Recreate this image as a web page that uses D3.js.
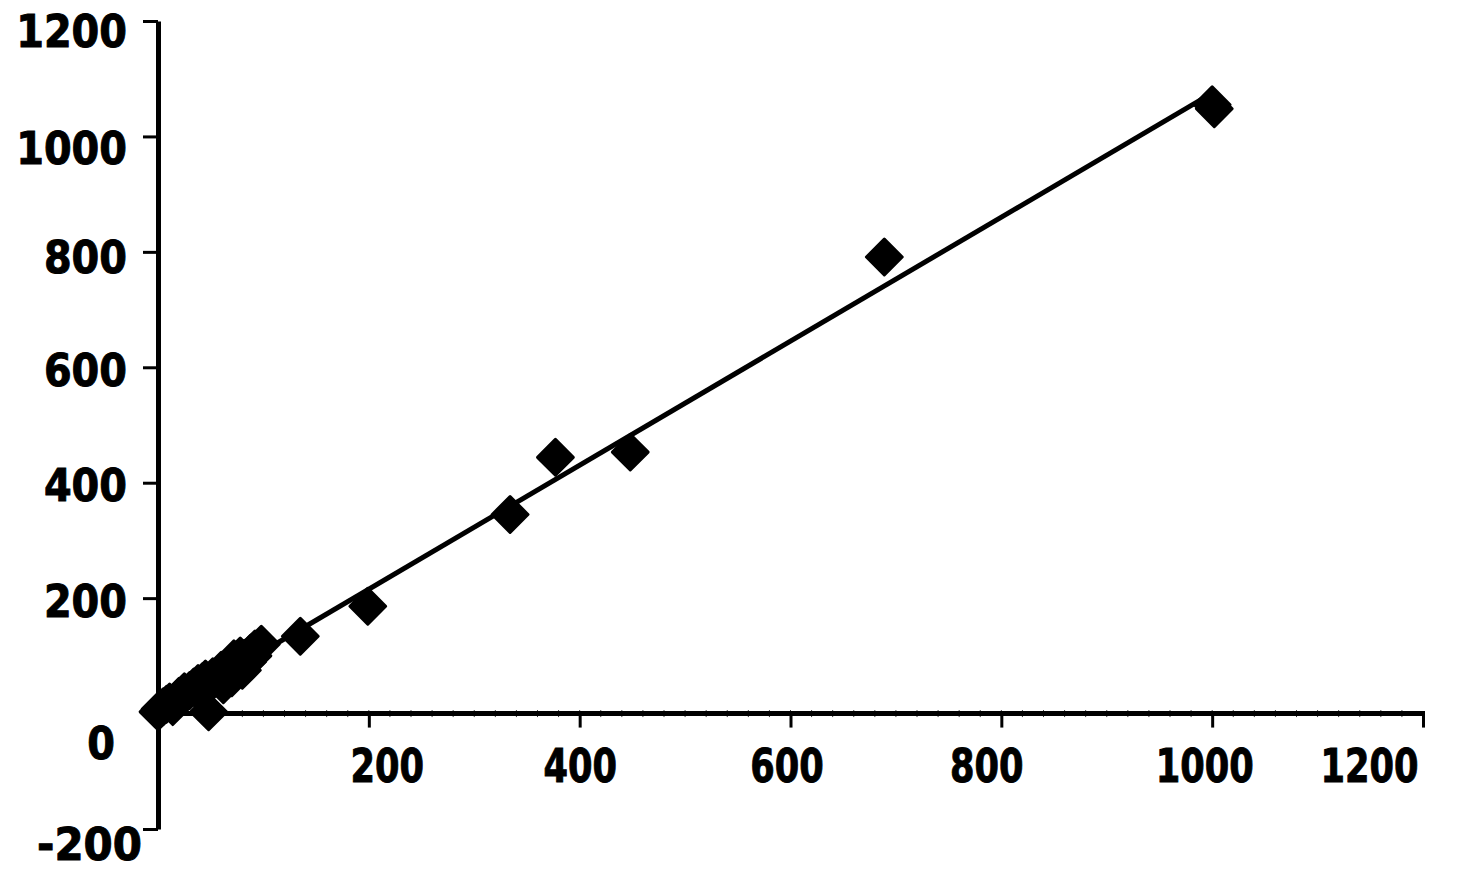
<!DOCTYPE html>
<meta charset="utf-8">
<head>
  <style>
    body { margin: 0; background: #fff; }
    svg { background-color: #fff; }
    .axis path, .axis line { stroke: #000; }
    .axis text {
      font-family: "DejaVu Sans", Verdana, sans-serif;
      font-weight: bold;
      fill: #000;
      stroke: #000;
      stroke-width: 1px;
    }
    .trend { fill: none; stroke: #000; stroke-width: 5px; }
    .pt { fill: #000; stroke: #000; stroke-width: 3px; stroke-linejoin: round; }
  </style>
  <script src="https://cdn.jsdelivr.net/npm/d3@7/dist/d3.min.js"></script>
</head>
<body>
  <script>
    // measured values (x, y)
    var xValues = [0, 2, 5, 8, 11, 14, 18, 20, 25, 30, 34, 38, 40, 42, 45, 48, 52, 55, 62, 60, 65, 68, 70, 72, 75, 78, 80, 82, 85, 88, 90, 92, 98, 135, 199, 334, 377, 448, 689, 1000, 1002]
      , yValues = [3, 8, 12, 16, 20, 12, 24, 30, 38, 40, 46, 52, 35, 55, 60, 3, 64, 62, 50, 75, 70, 85, 62, 95, 88, 100, 75, 96, 90, 105, 100, 112, 120, 134, 186, 345, 444, 453, 791, 1055, 1048]
      , trendX = [0, 1000]
      , trendY = [0.6, 1075]
      , xTicks = [200, 400, 600, 800, 1000, 1200]
      , yTicks = [-200, 0, 200, 400, 600, 800, 1000, 1200]
      , xMinor = d3.range(20, 1200, 20)
      ;

    var width = 1482, height = 878
      // label nudges, to sit the labels where the picture has them
      , xNudge = {200: 18, 400: 0, 600: -4, 800: -15, 1000: -8, 1200: -54}
      , yNudgeY = {"-200": 14, "0": 29, "200": 2, "400": 2, "600": 2, "800": 4, "1000": 11, "1200": 9}
      , yNudgeX = {"-200": 15, "0": -12}
      ;

    var x = d3.scaleLinear().domain([0, 1200]).range([158, 1423])
      , y = d3.scaleLinear().domain([-200, 1200]).range([829, 21])
      , fmt = function(d) { return String(d); };

    var svg = d3.select("body").append("svg")
        .attr("width", width)
        .attr("height", height);

    // minor ticks on the x axis
    svg.append("g")
        .attr("transform", "translate(0," + y(0) + ")")
        .selectAll("line")
        .data(xMinor)
        .enter().append("line")
        .attr("x1", x).attr("x2", x)
        .attr("y1", -3.5).attr("y2", 3.5)
        .attr("stroke", "#000")
        .attr("stroke-width", 0.8);

    var gx = svg.append("g")
        .attr("class", "axis")
        .attr("transform", "translate(0," + y(0) + ")")
        .call(d3.axisBottom(x).tickValues(xTicks).tickFormat(fmt).tickSize(14).tickSizeOuter(0).tickPadding(0));

    gx.select(".domain").attr("stroke-width", 5).attr("d", "M" + x(0) + ",0H" + (x(1200) + 2));
    gx.selectAll(".tick line").attr("stroke-width", 3);
    gx.selectAll(".tick text")
        .attr("x", function(d) { return xNudge[d]; })
        .attr("y", 68)
        .attr("dy", null)
        .style("font-size", "46px")
        .attr("textLength", function(d) { return String(d).length * 24.5; })
        .attr("lengthAdjust", "spacingAndGlyphs");

    var gy = svg.append("g")
        .attr("class", "axis")
        .attr("transform", "translate(" + x(0) + ",0)")
        .call(d3.axisLeft(y).tickValues(yTicks).tickFormat(fmt).tickSize(15).tickSizeOuter(0).tickPadding(0));

    gy.select(".domain").attr("stroke-width", 5);
    gy.selectAll(".tick line").attr("stroke-width", 3);
    gy.selectAll(".tick text")
        .attr("x", function(d) { return -31 + (yNudgeX[d] || 0); })
        .attr("y", function(d) { return yNudgeY[d]; })
        .attr("dy", "0.36em")
        .style("font-size", "45px")
        .attr("textLength", function(d) { return d < 0 ? 105 : String(d).length * 27.7; })
        .attr("lengthAdjust", "spacingAndGlyphs");

    // trend line
    svg.append("path")
        .datum(d3.zip(trendX, trendY))
        .attr("class", "trend")
        .attr("d", d3.line().x(function(d) { return x(d[0]); }).y(function(d) { return y(d[1]); }));

    // diamonds
    svg.selectAll(".pt")
        .data(d3.zip(xValues, yValues))
        .enter().append("path")
        .attr("class", "pt")
        .attr("d", d3.symbol().type(d3.symbolSquare).size(640))
        .attr("transform", function(d) { return "translate(" + x(d[0]) + "," + y(d[1]) + ")rotate(45)"; });
  </script>
</body>
